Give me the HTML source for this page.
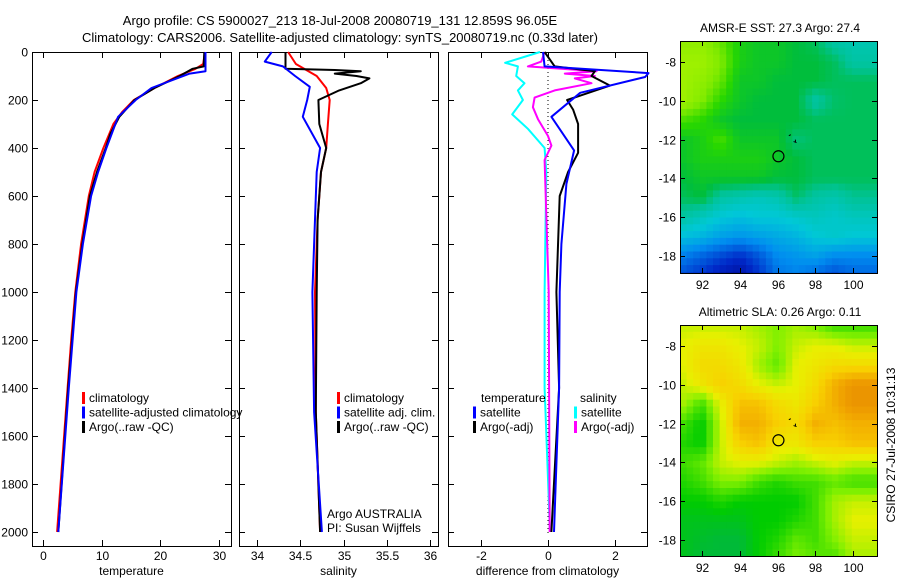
<!DOCTYPE html>
<html><head><meta charset="utf-8"><title>Argo profile</title>
<style>
html,body{margin:0;padding:0;background:#fff;}
svg{display:block;font-family:"Liberation Sans",sans-serif;}
text{font-size:12px;fill:#000;}
</style></head>
<body>
<svg id="fig" width="900" height="580" viewBox="0 0 900 580" xmlns="http://www.w3.org/2000/svg">
<text x="340" y="25" text-anchor="middle" style="font-size:13px">Argo profile: CS 5900027_213 18-Jul-2008 20080719_131 12.859S 96.05E</text>
<text x="340" y="42" text-anchor="middle" style="font-size:13px">Climatology: CARS2006. Satellite-adjusted climatology: synTS_20080719.nc (0.33d later)</text>
<text x="780" y="32" text-anchor="middle">AMSR-E SST: 27.3 Argo: 27.4</text>
<text x="780" y="316" text-anchor="middle">Altimetric SLA: 0.26 Argo: 0.11</text>
<text transform="translate(895,445) rotate(-90)" text-anchor="middle">CSIRO 27-Jul-2008 10:31:13</text>
<g id="layer"></g>
</svg>
<script>
// ---------------- data ----------------
const tempClimDepth=[0,50,70,100,150,200,250,300,400,500,600,800,1000,1200,1400,1600,1800,2000];
const tempClim=[27.6,27.3,26,23,19,15.5,13.5,12,10.3,8.8,7.8,6.5,5.5,4.8,4.2,3.6,3.0,2.4];
const tempSatDepth=[0,80,90,150,200,270,400,500,600,800,1000,1400,2000];
const tempSat=[27.7,27.7,25,18.5,15.8,12.8,10.8,9.4,8.2,6.8,5.7,4.4,2.6];
const tempArgoDepth=[0,60,70,100,150,200,270,340,400,500,600,800,1000,1400,2000];
const tempArgo=[27.5,27.4,25.5,23.3,19,15.6,13,11.5,10.7,9.2,8.0,6.7,5.6,4.3,2.6];

const salClimDepth=[0,50,100,150,200,300,400,500,700,1000,1500,2000];
const salClim=[34.36,34.45,34.69,34.8,34.84,34.82,34.8,34.74,34.7,34.67,34.68,34.73];
const salSatDepth=[0,40,60,100,145,200,270,400,500,1000,1500,2000];
const salSat=[34.17,34.09,34.3,34.44,34.61,34.58,34.53,34.73,34.69,34.64,34.66,34.75];
const salArgoDepth=[0,70,75,80,90,100,110,130,160,200,300,400,500,700,1000,1500,2000];
const salArgo=[34.33,34.33,34.9,35.2,34.9,35.15,35.3,35.2,34.95,34.71,34.72,34.8,34.74,34.7,34.69,34.68,34.73];

const dTempSatDepth=[0,60,88,104,170,270,410,550,800,1000,1400,2000];
const dTempSat=[-0.15,-0.1,3.0,2.9,0.96,0.1,0.78,0.55,0.4,0.35,0.33,0.18];
const dTempArgoDepth=[0,60,80,100,140,180,200,240,300,350,420,500,600,1000,1400,2000];
const dTempArgo=[-0.1,0.2,1.4,1.3,1.85,1.0,0.57,0.75,0.9,0.9,0.9,0.6,0.35,0.25,0.33,0.1];
const dSalSatDepth=[0,45,60,100,130,160,200,260,320,400,500,1000,1400,2000];
const dSalSat=[-0.24,-1.28,-0.9,-0.95,-0.7,-0.9,-0.75,-1.07,-0.6,-0.1,-0.05,-0.1,-0.1,0.06];
const dSalArgoDepth=[0,40,60,80,90,100,110,130,160,190,230,280,350,390,450,1000,2000];
const dSalArgo=[-0.1,-0.2,-0.6,1.45,0.5,1.4,0.8,1.3,0.2,-0.4,-0.45,-0.3,0.0,0.1,-0.1,0.02,0.05];

const depthTicks=[0,200,400,600,800,1000,1200,1400,1600,1800,2000];
const tempTicks=[0,10,20,30];
const salTicks=[34,34.5,35,35.5,36];
const diffTicks=[-2,0,2];
const lonTicks=[92,94,96,98,100];
const latTicks=[-8,-10,-12,-14,-16,-18];

// SST grid rows lat -7..-19, cols lon 91..100 (normalised)
const sstGrid=[
[.72,.72,.68,.62,.6,.6,.58,.56,.5,.48],
[.74,.74,.70,.62,.6,.6,.58,.58,.56,.5],
[.74,.72,.68,.6,.6,.58,.58,.58,.56,.56],
[.74,.7,.64,.6,.58,.58,.58,.5,.55,.56],
[.66,.64,.6,.58,.58,.58,.58,.56,.56,.56],
[.6,.62,.66,.6,.6,.6,.54,.56,.56,.56],
[.6,.62,.62,.62,.62,.6,.58,.56,.56,.56],
[.58,.6,.6,.6,.6,.58,.58,.56,.56,.56],
[.56,.58,.5,.48,.46,.48,.55,.5,.48,.52],
[.5,.46,.42,.4,.42,.42,.44,.46,.44,.46],
[.4,.38,.34,.32,.34,.36,.38,.42,.44,.42],
[.28,.24,.2,.16,.22,.3,.32,.34,.3,.3],
[.2,.16,.1,.06,.16,.26,.28,.24,.2,.24]];
const slaGrid=[
[.5,.5,.5,.5,.45,.4,.45,.4,.3,.3],
[.55,.6,.6,.55,.5,.4,.5,.55,.55,.5],
[.55,.65,.65,.6,.45,.35,.55,.6,.65,.65],
[.5,.6,.7,.65,.55,.5,.55,.65,.8,.9],
[.45,.3,.55,.75,.75,.65,.6,.7,.8,.9],
[.3,.2,.5,.8,.8,.7,.65,.8,.75,.8],
[.25,.2,.5,.7,.75,.6,.6,.7,.7,.75],
[.3,.35,.5,.55,.55,.5,.45,.5,.55,.5],
[.25,.3,.4,.4,.3,.25,.3,.3,.35,.3],
[.2,.2,.25,.2,.2,.2,.2,.3,.45,.5],
[.15,.15,.15,.15,.2,.2,.25,.3,.45,.55],
[.15,.12,.1,.1,.2,.25,.35,.3,.4,.5],
[.15,.1,.1,.1,.2,.3,.4,.35,.3,.45]];
const argoLon=96.05, argoLat=-12.859;

// ---------------- drawing ----------------
const NS="http://www.w3.org/2000/svg";
const layer=document.getElementById('layer');
function mk(tag,attrs,parent){const e=document.createElementNS(NS,tag);for(const k in attrs)e.setAttribute(k,attrs[k]);(parent||layer).appendChild(e);return e;}
function lin(d0,d1,r0,r1){return v=>r0+(v-d0)*(r1-r0)/(d1-d0);}

const yDepth=lin(0,2000,52,532);
const panels=[
 {x0:32,x1:231,xs:lin(0,30,43,219),ticks:tempTicks,title:'temperature',name:'temperature-panel'},
 {x0:239,x1:438,xs:lin(34,36,257,430),ticks:salTicks,title:'salinity',name:'salinity-panel'},
 {x0:448,x1:647,xs:lin(-2,2,481,615),ticks:diffTicks,title:'difference from climatology',name:'difference-panel'}];
const yTop=52,yBot=546;

panels.forEach((p,i)=>{
  const g=mk('g',{});
  
  
  const fr=mk('rect',{x:p.x0+.5,y:yTop+.5,width:p.x1-p.x0,height:yBot-yTop,fill:'none',stroke:'#000','stroke-width':1},g);
  
  
  depthTicks.forEach(d=>{
    const y=Math.round(yDepth(d))+.5;
    mk('line',{x1:p.x0,x2:p.x0+6,y1:y,y2:y,stroke:'#000'},g);
    mk('line',{x1:p.x1-6,x2:p.x1,y1:y,y2:y,stroke:'#000'},g);
    if(i===0){const t=mk('text',{x:28,y:y+4,'text-anchor':'end'},g);t.textContent=d;
      
      }
  });
  p.ticks.forEach(v=>{
    const x=Math.round(p.xs(v))+.5;
    mk('line',{x1:x,x2:x,y1:yTop,y2:yTop+6,stroke:'#000'},g);
    mk('line',{x1:x,x2:x,y1:yBot-6,y2:yBot,stroke:'#000'},g);
    const t=mk('text',{x:x,y:560,'text-anchor':'middle'},g);t.textContent=v;
    
    
  });
  const t=mk('text',{x:(p.x0+p.x1)/2,y:575,'text-anchor':'middle'},g);t.textContent=p.title;
  
  
});

function series(p,depths,vals,color,name,w){
  const pts=depths.map((d,k)=>p.xs(vals[k]).toFixed(1)+','+yDepth(d).toFixed(1)).join(' ');
  const l=mk('polyline',{points:pts,fill:'none',stroke:color,'stroke-width':w||2,'stroke-linejoin':'round'});
  
  
}
const z=panels[2].xs(0);
const zl=mk('line',{x1:z,x2:z,y1:yTop,y2:yBot-10,stroke:'#000','stroke-dasharray':'1,3'});



series(panels[0],tempClimDepth,tempClim,'#f00','temp-climatology-line');
series(panels[0],tempArgoDepth,tempArgo,'#000','temp-argo-line');
series(panels[0],tempSatDepth,tempSat,'#00f','temp-satellite-line');
series(panels[1],salClimDepth,salClim,'#f00','sal-climatology-line');
series(panels[1],salArgoDepth,salArgo,'#000','sal-argo-line');
series(panels[1],salSatDepth,salSat,'#00f','sal-satellite-line');
series(panels[2],dSalSatDepth,dSalSat,'#0ff','diff-sal-satellite-line');
series(panels[2],dSalArgoDepth,dSalArgo,'#f0f','diff-sal-argo-line');
series(panels[2],dTempArgoDepth,dTempArgo,'#000','diff-temp-argo-line');
series(panels[2],dTempSatDepth,dTempSat,'#00f','diff-temp-satellite-line');

function legend(x,y,items,name){
  items.forEach((it,k)=>{
    const yy=y+k*14.5;
    if(it.c){const r=mk('rect',{x:x,y:yy-10,width:3,height:12,fill:it.c});
      
      }
    const t=mk('text',{x:x+7,y:yy});t.textContent=it.t;
    
    
  });
}
legend(82,402,[{c:'#f00',t:'climatology'},{c:'#00f',t:'satellite-adjusted climatology'},{c:'#000',t:'Argo(..raw -QC)'}],'temp-legend');
legend(337,402,[{c:'#f00',t:'climatology'},{c:'#00f',t:'satellite adj. clim.'},{c:'#000',t:'Argo(..raw -QC)'}],'sal-legend');
legend(473,402,[{t:''},{c:'#00f',t:'satellite'},{c:'#000',t:'Argo(-adj)'}],'diff-temp-legend');
legend(574,402,[{t:''},{c:'#0ff',t:'satellite'},{c:'#f0f',t:'Argo(-adj)'}],'diff-sal-legend');
[['temperature',481],['salinity',580]].forEach(a=>{const t=mk('text',{x:a[1],y:402});t.textContent=a[0];
  
  });
[['Argo AUSTRALIA',327,518],['PI: Susan Wijffels',327,532]].forEach(a=>{const t=mk('text',{x:a[1],y:a[2]});t.textContent=a[0];
  
  });

// ---- maps ----
function ramp(stops){return v=>{for(let k=1;k<stops.length;k++){if(v<=stops[k][0]){const a=stops[k-1],b=stops[k],f=Math.max(0,(v-a[0])/(b[0]-a[0]));
  return 'rgb('+a[1].map((c,j)=>Math.round(c+(b[1][j]-c)*f)).join(',')+')';}}const l=stops[stops.length-1][1];return 'rgb('+l.join(',')+')';};}
const sstCol=ramp([[0,[0,0,130]],[.15,[0,40,200]],[.3,[0,140,240]],[.42,[0,200,215]],[.52,[0,195,150]],[.58,[0,190,60]],[.64,[40,215,0]],[.7,[130,235,0]],[.8,[200,250,0]]]);
const slaCol=ramp([[0,[0,168,112]],[.2,[0,204,0]],[.4,[128,240,0]],[.55,[232,240,0]],[.7,[248,208,0]],[.85,[240,160,0]],[1,[224,128,0]]]);
function sample(grid,lon,lat){
  const cx=Math.max(0,Math.min(9,lon-91)),ry=Math.max(0,Math.min(12,-7-lat));
  const c0=Math.floor(Math.min(cx,8.999)),r0=Math.floor(Math.min(ry,11.999));const fx=cx-c0,fy=ry-r0;
  const a=grid[r0][c0],b=grid[r0][c0+1],c=grid[r0+1][c0],d=grid[r0+1][c0+1];
  return a*(1-fx)*(1-fy)+b*fx*(1-fy)+c*(1-fx)*fy+d*fx*fy;}
function drawMap(name,grid,cmap,y0,y1,latScale){
  const x0=680,x1=877;
  const xs=lin(92,100,702,853);
  const g=mk('g',{});
  
  
  const step=0.35;
  const lonMin=(x0-702)/((853-702)/8)+92,lonMax=(x1-702)/((853-702)/8)+92;
  const latTop=latScale.inv(y0),latBot=latScale.inv(y1);
  for(let lat=latTop;lat>latBot;lat-=step){for(let lon=lonMin;lon<lonMax;lon+=step){
    const xa=Math.max(x0,xs(lon)),xb=Math.min(x1,xs(lon+step)),ya=Math.max(y0,latScale.f(lat)),yb=Math.min(y1,latScale.f(lat-step));
    mk('rect',{x:xa.toFixed(1),y:ya.toFixed(1),width:(xb-xa+0.6).toFixed(1),height:(yb-ya+0.6).toFixed(1),fill:cmap(sample(grid,lon+step/2,lat-step/2))},g);}}
  mk('rect',{x:x0+.5,y:y0+.5,width:x1-x0,height:y1-y0,fill:'none',stroke:'#000'},g);
  lonTicks.forEach(v=>{const x=Math.round(xs(v))+.5;
    mk('line',{x1:x,x2:x,y1:y0,y2:y0+5,stroke:'#000'},g);mk('line',{x1:x,x2:x,y1:y1-5,y2:y1,stroke:'#000'},g);
    const t=mk('text',{x:x,y:y1+16,'text-anchor':'middle'},g);t.textContent=v;
    
    });
  latTicks.forEach(v=>{const y=Math.round(latScale.f(v))+.5;
    mk('line',{x1:x0,x2:x0+5,y1:y,y2:y,stroke:'#000'},g);mk('line',{x1:x1-5,x2:x1,y1:y,y2:y,stroke:'#000'},g);
    const t=mk('text',{x:676,y:y+4,'text-anchor':'end'},g);t.textContent=v;
    
    });
  const c=mk('circle',{cx:xs(argoLon),cy:latScale.f(argoLat),r:5.5,fill:'none',stroke:'#000','stroke-width':1.2},g);
  
  
  const tr=mk('path',{d:`M${xs(96.6)},${latScale.f(-11.8)} l2,-1 M${xs(96.85)},${latScale.f(-12.1)} l3,1 M${xs(96.95)},${latScale.f(-12.0)} l0,3`,stroke:'#000','stroke-width':1,fill:'none'},g);
  
  
}
function latS(a,b){const f=lin(-8,-18,a,b);const inv=lin(a,b,-8,-18);return {f:f,inv:inv};}
drawMap('sst-map',sstGrid,sstCol,41,273,latS(62,256));
drawMap('sla-map',slaGrid,slaCol,325,556,latS(346,540));
</script>
</body></html>
